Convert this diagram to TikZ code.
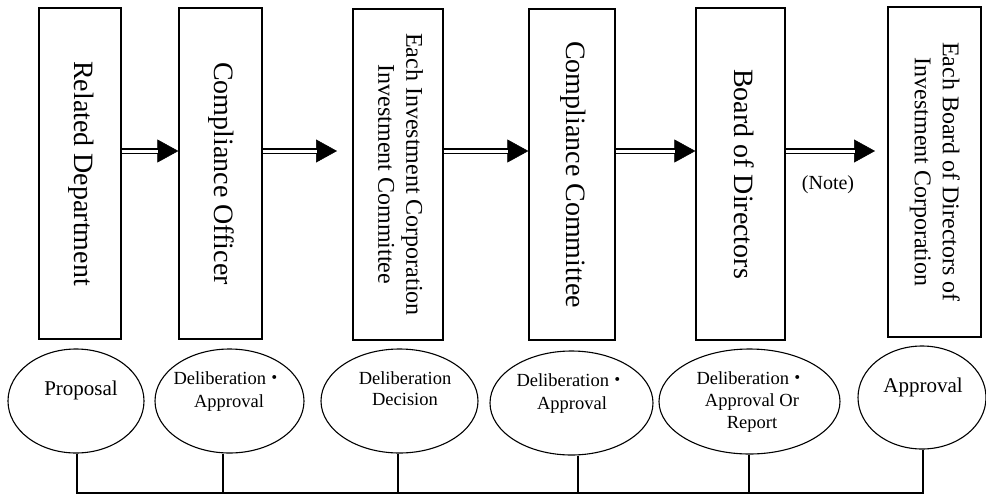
\documentclass[tikz,border=0pt]{standalone}
\usepackage{fontspec}
\setmainfont{Liberation Serif}
\newfontfamily\cjk{Noto Sans CJK JP}
\usetikzlibrary{arrows.meta,shapes.geometric}
\tikzset{
  box/.style={draw, line width=1.3pt, inner sep=0pt, minimum height=331pt},
  oval/.style={draw, ellipse, line width=1.1pt, inner sep=0pt, minimum height=104pt},
  otext/.style={align=center, inner sep=0pt, font=\fontsize{18.5}{23}\selectfont},
  flow/.style={double, double distance=3pt, line width=1.6pt, shorten >=20pt},
  tip/.style={-{Triangle[length=21pt,width=23pt]}, line width=0.5pt},
  bus/.style={line width=2.6pt}
}
\newcommand{\vtext}[2]{\rotatebox{-90}{\fontsize{#1}{28}\selectfont\begin{tabular}{@{}c@{}}#2\end{tabular}}}
\newcommand{\mdot}{{\cjk ・}}

\begin{document}
\begin{tikzpicture}[x=1pt,y=-1pt]
\useasboundingbox (0,0) rectangle (986,496);

\node[box, minimum width=82pt] (b1) at (80,173.5) {\vtext{28}{Related Department}};
\node[box, minimum width=83pt] (b2) at (220.5,173.5) {\vtext{28}{Compliance Officer}};
\node[box, minimum width=90pt] (b3) at (398,174.5) {\vtext{24}{Each Investment Corporation\\Investment Committee}};
\node[box, minimum width=86pt] (b4) at (572,174.5) {\vtext{28}{Compliance Committee}};
\node[box, minimum width=89pt, minimum height=332pt] (b5) at (740.5,174) {\vtext{28}{Board of Directors}};
\node[box, minimum width=93pt, minimum height=330pt] (b6) at (934.5,172) {\vtext{24}{Each Board of Directors of\\Investment Corporation}};

\coordinate (lvl) at (0,151);
\coordinate (n3) at (337,151);
\coordinate (n6) at (875,151);
\foreach \a/\b in {b1/b2,b3/b4,b4/b5}{
  \draw[tip] (\a.east |- lvl) -- (\b.west |- lvl);
  \draw[flow] (\a.east |- lvl) -- (\b.west |- lvl);
}
\draw[tip] (b2.east |- lvl) -- (n3);
\draw[flow] (b2.east |- lvl) -- (n3);
\draw[tip] (b5.east |- lvl) -- (n6);
\draw[flow] (b5.east |- lvl) -- (n6);
\node[font=\fontsize{20}{24}\selectfont] (note) at (828,185) {(Note)};

\node[oval, minimum width=136pt] (e1) at (76,401) {};
\node[oval, minimum width=149pt] (e2) at (229.5,401) {};
\node[oval, minimum width=157pt] (e3) at (399.5,401) {};
\node[oval, minimum width=163pt] (e4) at (571.5,403) {};
\node[oval, minimum width=181pt, minimum height=105pt] (e5) at (749.5,401.5) {};
\node[oval, minimum width=128pt, minimum height=103pt] (e6) at (922,397.5) {};

\node[otext, font=\fontsize{21}{25}\selectfont] (t1) at (81,390) {Proposal};
\node[otext] (t2) at (229,391.5) {Deliberation\mdot\\Approval};
\node[otext, font=\fontsize{18.5}{21}\selectfont] (t3) at (405,388.5) {Deliberation\\Decision};
\node[otext] (t4) at (572,394) {Deliberation\mdot\\Approval};
\node[otext, font=\fontsize{18.5}{22}\selectfont] (t5) at (752,402) {Deliberation\mdot\\Approval Or\\Report};
\node[otext, font=\fontsize{21}{25}\selectfont] (t6) at (923,387) {Approval};

\coordinate (bus) at (0,493);
\foreach \e/\dx [count=\i] in {e1/1,e2/-6.5,e3/-1.5,e4/6.5,e5/-0.5,e6/1}
  \coordinate (v\i) at ([xshift=\dx pt]\e.south);
\foreach \i in {1,...,6}
  \draw[bus] (v\i) -- (v\i |- bus);
\draw[bus, line cap=rect] (v1 |- bus) -- (v6 |- bus);
\end{tikzpicture}
\end{document}
